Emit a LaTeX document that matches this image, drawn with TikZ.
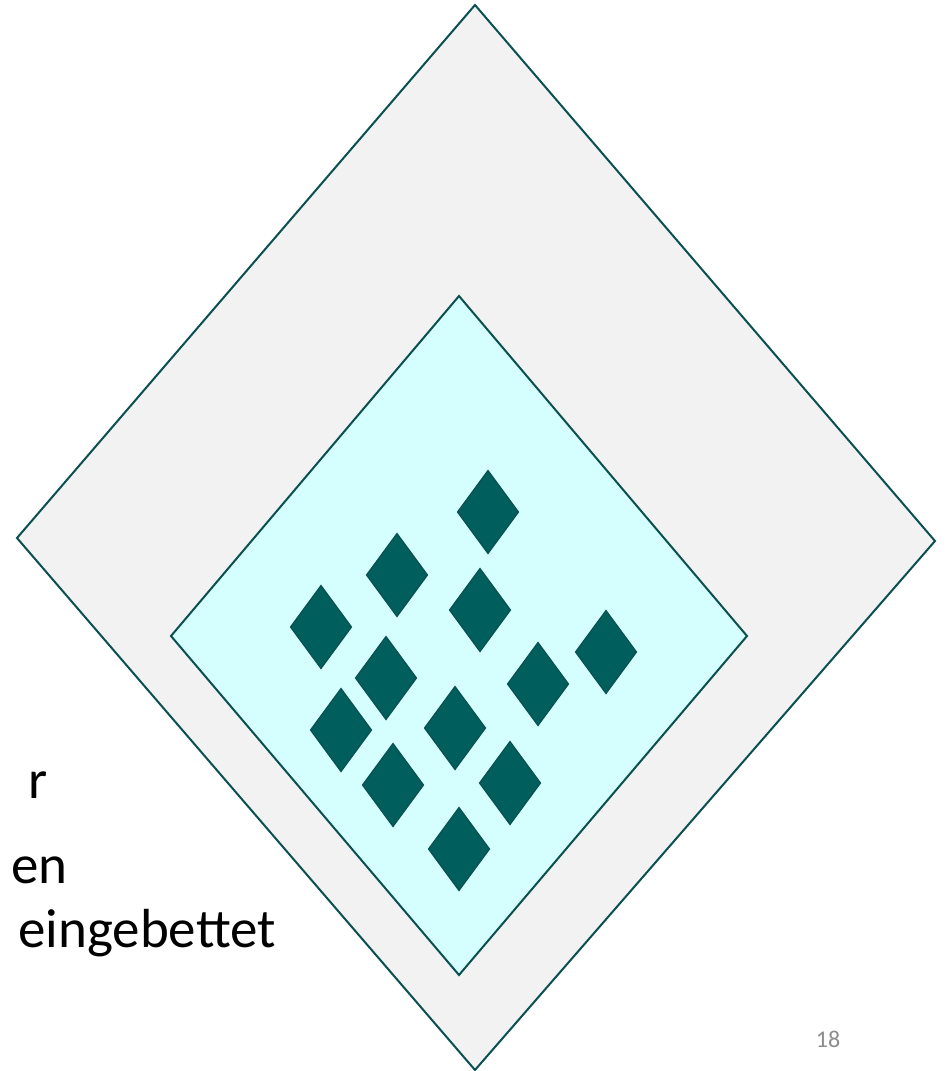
\documentclass[tikz,border=0pt]{standalone}
\usepackage{fontspec}
\setmainfont{Carlito}
\definecolor{edge}{HTML}{0B5050}
\definecolor{teal}{HTML}{005F5C}
\definecolor{outerfill}{HTML}{F2F2F2}
\definecolor{innerfill}{HTML}{D5FFFF}
\begin{document}
\begin{tikzpicture}[x=1pt,y=-1pt,
  bigdia/.style={draw=edge,line width=2pt,line join=miter},
  gem/.style={draw=edge,fill=teal,line width=1.2pt},
  txt/.style={font=\fontsize{55}{62}\selectfont,text=black,inner sep=0pt,anchor=base east}]
\useasboundingbox (0,0) rectangle (950,1071);
\fill[white] (0,0) rectangle (950,1071);
\node[txt] (t1) at (48,798) {r};
\node[txt] (t2) at (68,883) {en};
\node[txt] (t3) at (276,947) {eingebettet};
\filldraw[bigdia,fill=outerfill] (475,5) -- (935,541) -- (475,1070) -- (17,538) -- cycle;
\filldraw[bigdia,fill=innerfill] (459,296) -- (747,636) -- (459,975) -- (171,636) -- cycle;
\foreach \x/\y in {488/512,480/610,606/652,538/684,397/575,321/627,386/678,341/730,455/728,393/785,510/783,459/849}
  \filldraw[gem] (\x,\y-41.5) -- (\x+30.5,\y) -- (\x,\y+41.5) -- (\x-30.5,\y) -- cycle;
\node[font=\fontsize{24}{28}\selectfont,text=gray!90,anchor=base] (pg) at (828,1047) {18};
\end{tikzpicture}
\end{document}
